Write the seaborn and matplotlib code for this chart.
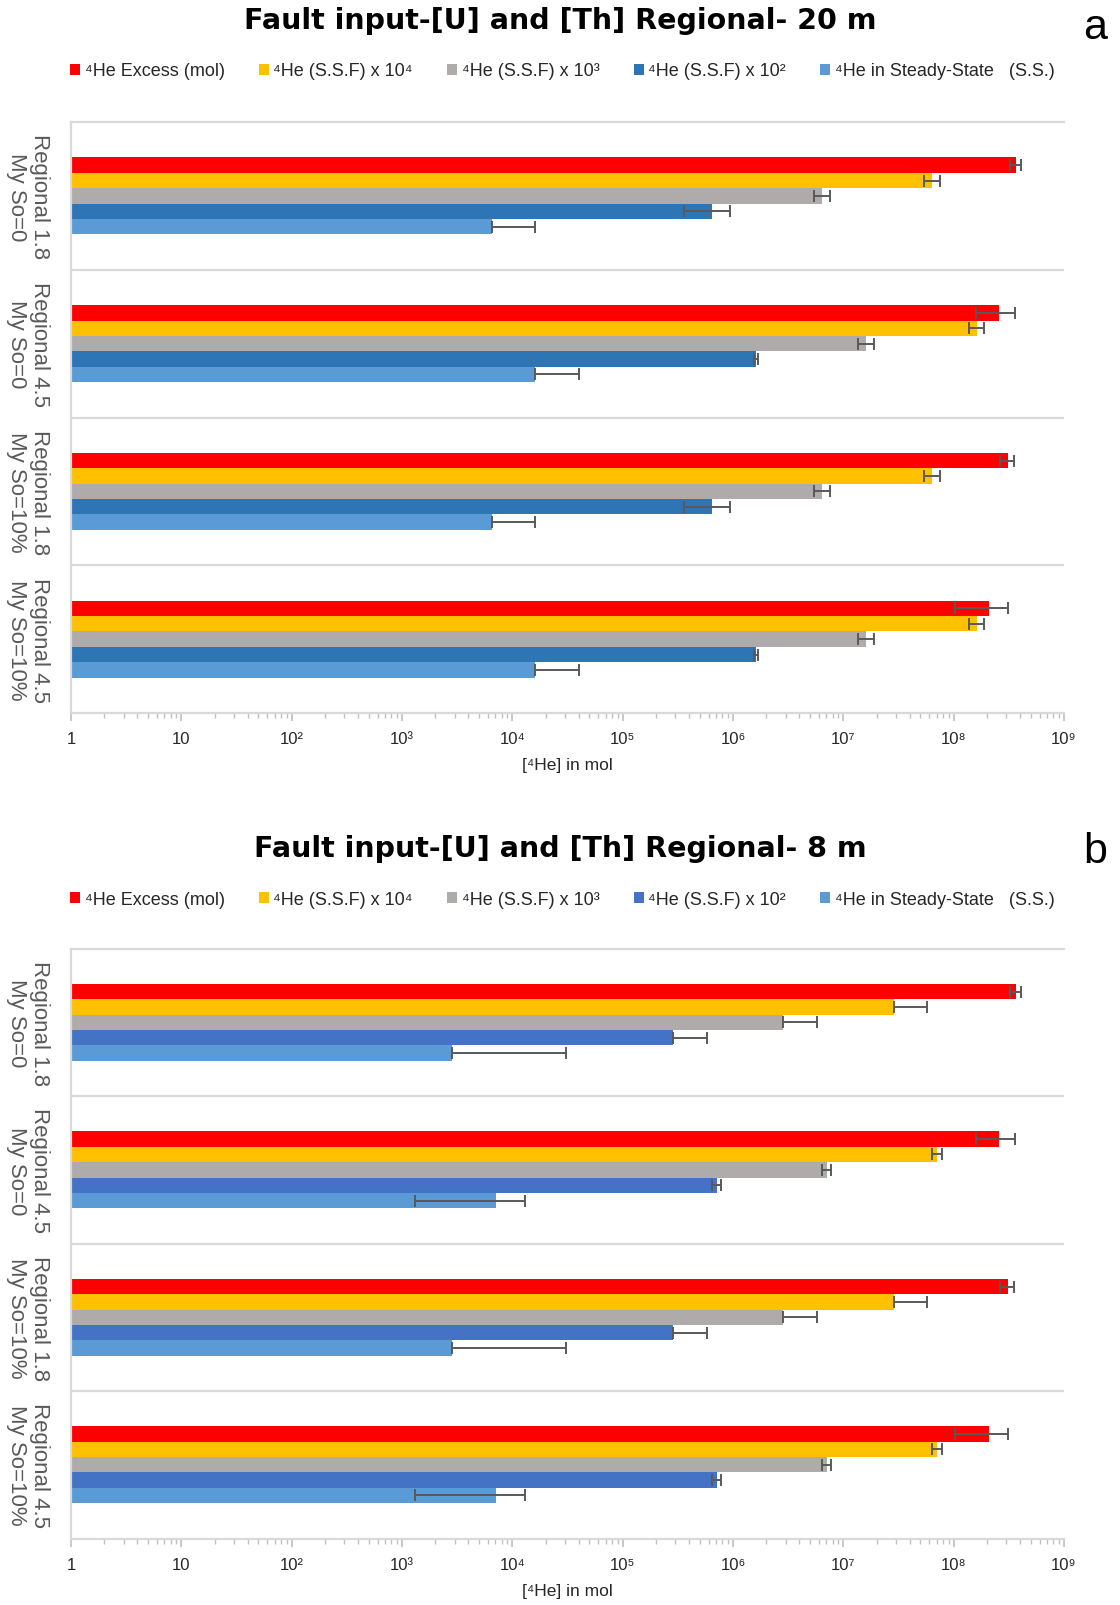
import numpy as np
import pandas as pd
import matplotlib
matplotlib.use("Agg")
import matplotlib.pyplot as plt
import seaborn as sns
from matplotlib.ticker import LogLocator, FixedLocator, NullFormatter

# ---- categories and series -------------------------------------------------
groups = ["Regional 1.8\nMy So=0", "Regional 4.5\nMy So=0",
          "Regional 1.8\nMy So=10%", "Regional 4.5\nMy So=10%"]
series = ["\u2074He Excess (mol)", "\u2074He (S.S.F) x 10\u2074",
          "\u2074He (S.S.F) x 10\u00b3", "\u2074He (S.S.F) x 10\u00b2",
          "\u2074He in Steady-State   (S.S.)"]

# ---- panel a : Regional 20 m --------------------------------------------
a_excess = [3.66e8, 2.60e8, 3.10e8, 2.08e8]
a_excess_err = [4.5e7, 1.0e8, 4.5e7, 1.05e8]
a_ssf4 = [6.4e7, 1.62e8, 6.4e7, 1.62e8]
a_ssf4_err = [1.05e7, 2.5e7, 1.05e7, 2.5e7]
a_ssf3 = [6.45e6, 1.62e7, 6.45e6, 1.62e7]
a_ssf3_err = [1.05e6, 2.6e6, 1.05e6, 2.6e6]
a_ssf2 = [6.5e5, 1.62e6, 6.5e5, 1.62e6]
a_ssf2_err = [2.9e5, 8.0e4, 2.9e5, 8.0e4]
a_ss = [6.5e3, 1.62e4, 6.5e3, 1.62e4]
a_ss_err = [9.5e3, 2.4e4, 9.5e3, 2.4e4]

# ---- panel b : Regional 8 m ---------------------------------------------
b_excess = [3.66e8, 2.60e8, 3.10e8, 2.08e8]
b_excess_err = [4.5e7, 1.0e8, 4.5e7, 1.05e8]
b_ssf4 = [2.85e7, 7.1e7, 2.85e7, 7.1e7]
b_ssf4_err = [2.9e7, 7.0e6, 2.9e7, 7.0e6]
b_ssf3 = [2.86e6, 7.1e6, 2.86e6, 7.1e6]
b_ssf3_err = [2.9e6, 7.0e5, 2.9e6, 7.0e5]
b_ssf2 = [2.86e5, 7.1e5, 2.86e5, 7.1e5]
b_ssf2_err = [2.9e5, 7.0e4, 2.9e5, 7.0e4]
b_ss = [2.85e3, 7.1e3, 2.85e3, 7.1e3]
b_ss_err = [2.8e4, 5.8e3, 2.8e4, 5.8e3]

tick_values = [1, 1e1, 1e2, 1e3, 1e4, 1e5, 1e6, 1e7, 1e8, 1e9]
tick_labels = ["1", "10", "10\u00b2", "10\u00b3", "10\u2074", "10\u2075",
               "10\u2076", "10\u2077", "10\u2078", "10\u2079"]

sns.set_theme(style="white")
plt.rcParams["font.family"] = ["Liberation Sans", "DejaVu Sans"]

fig = plt.figure(figsize=(11.2, 16.06), dpi=100)

GRID = "#d9d9d9"
ERR = "#595959"


def draw_panel(rect, values, errors, palette, title, title_y, legend_y,
               letter, letter_y):
    ax = fig.add_axes(rect)
    rows = []
    for s, vals in zip(series, values):
        for g, v in zip(groups, vals):
            rows.append({"group": g, "series": s, "value": v})
    df = pd.DataFrame(rows)
    sns.barplot(data=df, y="group", x="value", hue="series",
                order=groups, hue_order=series, palette=palette,
                saturation=1, orient="h", width=0.52, errorbar=None,
                linewidth=0, ax=ax)
    ax.set_xscale("log")

    # error bars, placed on the bar centres computed by seaborn
    for cont, vals, errs in zip(ax.containers, values, errors):
        v = np.asarray(vals, float)
        e = np.asarray(errs, float)
        lo = np.where(v - e > 0, e, 0.0)
        ys = [p.get_y() + p.get_height() / 2 for p in cont.patches]
        ax.errorbar(v, ys, xerr=[lo, e], fmt="none", ecolor=ERR,
                    elinewidth=1.4, capsize=4, capthick=1.4, zorder=5)

    ax.set_xlim(1, 1e9)
    ax.set_ylim(3.5, -0.5)
    for yb in (0.5, 1.5, 2.5):
        ax.axhline(yb, color=GRID, lw=1.6, zorder=0)

    for side in ("left", "bottom", "top"):
        ax.spines[side].set_visible(True)
        ax.spines[side].set_color(GRID)
        ax.spines[side].set_linewidth(1.6)
    ax.spines["right"].set_visible(False)

    ax.xaxis.set_major_locator(FixedLocator(tick_values))
    ax.set_xticklabels(tick_labels)
    ax.xaxis.set_minor_locator(LogLocator(base=10, subs=np.arange(2, 10)))
    ax.xaxis.set_minor_formatter(NullFormatter())
    ax.tick_params(axis="x", which="major", bottom=True, length=6,
                   width=1.2, color="#bfbfbf", pad=7, labelsize=12,
                   labelcolor="#262626")
    ax.tick_params(axis="x", which="minor", bottom=True, length=3.5,
                   width=1.0, color="#bfbfbf")
    ax.set_xlabel("[\u2074He] in mol", fontsize=12.5, color="#262626",
                  labelpad=8)

    ax.set_ylabel("")
    ax.tick_params(axis="y", length=0, pad=15)
    ax.set_yticks(range(len(groups)))
    ax.set_yticklabels(groups, rotation=-90, fontsize=16, color="#595959",
                       va="center", ha="right", multialignment="center",
                       linespacing=1.15)

    leg = ax.get_legend()
    handles, labels = ax.get_legend_handles_labels()
    if leg is not None:
        leg.remove()
    fig.legend(handles, labels, loc="center", bbox_to_anchor=(0.502, legend_y),
               ncol=5, frameon=False, fontsize=13, handlelength=0.55,
               handleheight=0.55, handletextpad=0.25, columnspacing=1.9,
               labelcolor="#262626")

    fig.text(0.5, title_y, title, ha="center", va="baseline", fontsize=20.5,
             fontweight="bold", color="black", family="DejaVu Sans")
    fig.text(0.978, letter_y, letter, ha="center", va="baseline",
             fontsize=31, color="black")
    return ax


pal_a = ["#ff0000", "#ffc000", "#afabab", "#2e75b6", "#5b9bd5"]
pal_b = ["#ff0000", "#ffc000", "#afabab", "#4472c4", "#5b9bd5"]

draw_panel([0.0634, 0.5554, 0.8866, 0.368],
           [a_excess, a_ssf4, a_ssf3, a_ssf2, a_ss],
           [a_excess_err, a_ssf4_err, a_ssf3_err, a_ssf2_err, a_ss_err],
           pal_a, "Fault input-[U] and [Th] Regional- 20 m",
           0.9819, 0.9552, "a", 0.9757)

draw_panel([0.0634, 0.0414, 0.8866, 0.3673],
           [b_excess, b_ssf4, b_ssf3, b_ssf2, b_ss],
           [b_excess_err, b_ssf4_err, b_ssf3_err, b_ssf2_err, b_ss_err],
           pal_b, "Fault input-[U] and [Th] Regional- 8 m",
           0.4664, 0.4396, "b", 0.4628)

fig.savefig("out.png", dpi=100, facecolor="white")
